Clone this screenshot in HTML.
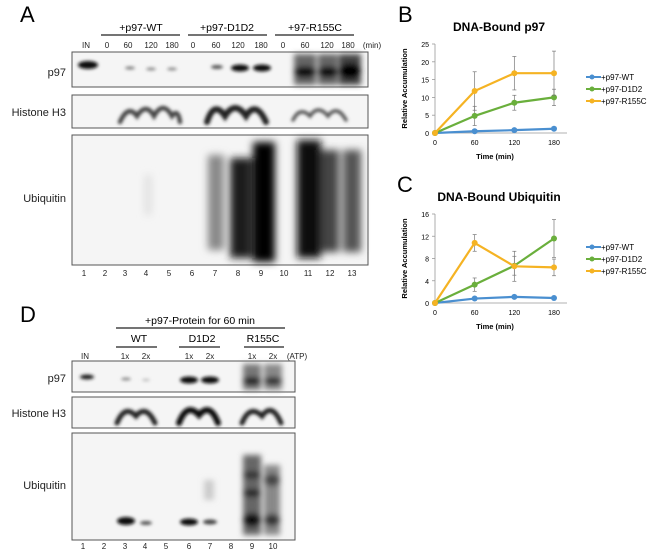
<!DOCTYPE html>
<html><head><meta charset="utf-8"><style>
body{margin:0;background:#fff;font-family:"Liberation Sans",Arial,sans-serif}
svg{display:block}
</style></head><body>
<svg id="fig" width="655" height="551" viewBox="0 0 655 551" font-family="Liberation Sans, Arial, sans-serif">
<defs>
<filter id="b1" x="-50%" y="-50%" width="200%" height="200%"><feGaussianBlur stdDeviation="1.6"/></filter>
<filter id="b2" x="-50%" y="-50%" width="200%" height="200%"><feGaussianBlur stdDeviation="3"/></filter>
<filter id="b3" x="-50%" y="-50%" width="200%" height="200%"><feGaussianBlur stdDeviation="4"/></filter>
</defs>
<g>
<text x="20" y="22" font-size="22">A</text>
<g font-size="10.5" text-anchor="middle">
<text x="141" y="31">+p97-WT</text>
<text x="227" y="31">+p97-D1D2</text>
<text x="315" y="31">+97-R155C</text>
</g>
<g stroke="#222" stroke-width="1.3">
<line x1="101" y1="35" x2="180" y2="35"/><line x1="188" y1="35" x2="267" y2="35"/><line x1="275" y1="35" x2="354" y2="35"/>
</g>
<g font-size="8" text-anchor="middle" fill="#222">
<text x="86" y="48">IN</text><text x="107" y="48">0</text><text x="128" y="48">60</text><text x="151" y="48">120</text><text x="172" y="48">180</text>
<text x="193" y="48">0</text><text x="216" y="48">60</text><text x="238" y="48">120</text><text x="261" y="48">180</text>
<text x="283" y="48">0</text><text x="305" y="48">60</text><text x="327" y="48">120</text><text x="348" y="48">180</text><text x="372" y="48">(min)</text>
</g>
<g font-size="11" text-anchor="end" fill="#222">
<text x="66" y="76">p97</text>
<text x="66" y="116">Histone H3</text>
<text x="66" y="202">Ubiquitin</text>
</g>
<rect x="72" y="52" width="296" height="35" fill="#f5f5f5" stroke="#555"/>
<rect x="72" y="95" width="296" height="33" fill="#f5f5f5" stroke="#555"/>
<rect x="72" y="135" width="296" height="130" fill="#f5f5f5" stroke="#555"/>
<g filter="url(#b1)" fill="#111">
<ellipse cx="88" cy="65" rx="10" ry="4"/>
<ellipse cx="130" cy="68" rx="5" ry="1.5" fill="#777"/><ellipse cx="151" cy="69" rx="5" ry="1.5" fill="#888"/><ellipse cx="172" cy="69" rx="5" ry="1.5" fill="#888"/>
<ellipse cx="217" cy="67" rx="6" ry="2" fill="#555"/><ellipse cx="240" cy="68" rx="9" ry="3.5"/><ellipse cx="262" cy="68" rx="9" ry="3.5"/>
</g>
<g filter="url(#b2)">
<rect x="294" y="54" width="22" height="31" fill="#666"/><rect x="318" y="54" width="20" height="31" fill="#666"/><rect x="339" y="54" width="22" height="31" fill="#444"/>
<ellipse cx="305" cy="72" rx="11" ry="6" fill="#111"/><ellipse cx="328" cy="72" rx="10" ry="6" fill="#111"/><ellipse cx="350" cy="71" rx="11" ry="8" fill="#000"/>
</g>
<g fill="none" stroke="#222" stroke-linecap="round" filter="url(#b1)">
<path d="M120 122 Q128 104 137 116 Q146 102 154 116 Q163 100 172 116 Q178 108 180 122" stroke-width="4.5" stroke="#444"/>
<path d="M207 122 Q214 100 225 116 Q235 100 246 116 Q256 100 266 122" stroke-width="6"/>
<path d="M293 120 Q300 106 310 116 Q318 104 328 116 Q337 104 346 120" stroke-width="3.5" stroke="#555"/>
</g>
<g filter="url(#b3)">
<rect x="208" y="155" width="16" height="95" fill="#888"/>
<rect x="230" y="158" width="22" height="100" fill="#1a1a1a"/>
<rect x="253" y="142" width="22" height="120" fill="#050505"/>
<rect x="297" y="140" width="24" height="118" fill="#080808"/>
<rect x="321" y="150" width="18" height="102" fill="#444"/>
<rect x="343" y="150" width="18" height="102" fill="#555"/>
<rect x="145" y="175" width="6" height="40" fill="#ddd"/>
</g>
<g font-size="8" text-anchor="middle" fill="#222">
<text x="84" y="276">1</text><text x="105" y="276">2</text><text x="125" y="276">3</text><text x="146" y="276">4</text><text x="169" y="276">5</text><text x="192" y="276">6</text><text x="215" y="276">7</text><text x="238" y="276">8</text><text x="261" y="276">9</text><text x="284" y="276">10</text><text x="308" y="276">11</text><text x="330" y="276">12</text><text x="352" y="276">13</text>
</g>
</g>
<g>
<text x="20" y="322" font-size="22">D</text>
<text x="200" y="324" font-size="10.5" text-anchor="middle">+p97-Protein for 60 min</text>
<line x1="116" y1="328" x2="285" y2="328" stroke="#222" stroke-width="1.3"/>
<g font-size="10.5" text-anchor="middle">
<text x="139" y="342">WT</text>
<text x="202" y="342">D1D2</text>
<text x="263" y="342">R155C</text>
</g>
<g stroke="#222" stroke-width="1.3"><line x1="116" y1="347" x2="157" y2="347"/><line x1="179" y1="347" x2="220" y2="347"/><line x1="244" y1="347" x2="284" y2="347"/></g>
<g font-size="8" text-anchor="middle" fill="#222">
<text x="85" y="359">IN</text><text x="125" y="359">1x</text><text x="146" y="359">2x</text><text x="189" y="359">1x</text><text x="210" y="359">2x</text><text x="252" y="359">1x</text><text x="273" y="359">2x</text><text x="297" y="359">(ATP)</text>
</g>
<g font-size="11" text-anchor="end" fill="#222">
<text x="66" y="382">p97</text>
<text x="66" y="417">Histone H3</text>
<text x="66" y="489">Ubiquitin</text>
</g>
<rect x="72" y="361" width="223" height="31" fill="#f5f5f5" stroke="#555"/>
<rect x="72" y="397" width="223" height="31" fill="#f5f5f5" stroke="#555"/>
<rect x="72" y="433" width="223" height="107" fill="#f5f5f5" stroke="#555"/>
<g filter="url(#b1)">
<ellipse cx="87" cy="377" rx="7" ry="2.5" fill="#222"/>
<ellipse cx="126" cy="379" rx="5" ry="1.5" fill="#888"/><ellipse cx="146" cy="380" rx="4" ry="1.2" fill="#bbb"/>
<ellipse cx="189" cy="380" rx="9" ry="3.5" fill="#111"/><ellipse cx="210" cy="380" rx="9" ry="3.5" fill="#111"/>
<ellipse cx="126" cy="521" rx="9" ry="4" fill="#111"/><ellipse cx="146" cy="523" rx="6" ry="2" fill="#555"/>
<ellipse cx="189" cy="522" rx="9" ry="3.5" fill="#111"/><ellipse cx="210" cy="522" rx="7" ry="2.5" fill="#444"/>
</g>
<g filter="url(#b2)">
<rect x="243" y="364" width="18" height="26" fill="#777"/><rect x="264" y="364" width="18" height="26" fill="#888"/>
<ellipse cx="252" cy="381" rx="9" ry="4" fill="#111"/><ellipse cx="273" cy="381" rx="9" ry="4" fill="#222"/>
<rect x="243" y="455" width="18" height="80" fill="#666"/><rect x="264" y="465" width="16" height="70" fill="#888"/>
<ellipse cx="252" cy="520" rx="9" ry="7" fill="#111"/><ellipse cx="252" cy="493" rx="9" ry="4" fill="#222"/><ellipse cx="252" cy="475" rx="9" ry="4" fill="#333"/>
<ellipse cx="272" cy="520" rx="8" ry="6" fill="#333"/><ellipse cx="272" cy="480" rx="8" ry="6" fill="#444"/>
<rect x="204" y="480" width="10" height="20" fill="#ccc"/>
</g>
<g fill="none" stroke-linecap="round" filter="url(#b1)">
<path d="M117 423 Q125 404 136 416 Q146 404 155 423" stroke="#222" stroke-width="5"/>
<path d="M179 423 Q187 402 199 415 Q210 402 218 423" stroke="#111" stroke-width="6"/>
<path d="M242 423 Q250 404 262 416 Q272 402 281 423" stroke="#222" stroke-width="5"/>
</g>
<g font-size="8" text-anchor="middle" fill="#222">
<text x="83" y="549">1</text><text x="104" y="549">2</text><text x="125" y="549">3</text><text x="145" y="549">4</text><text x="166" y="549">5</text><text x="189" y="549">6</text><text x="210" y="549">7</text><text x="231" y="549">8</text><text x="252" y="549">9</text><text x="273" y="549">10</text>
</g>
</g>
<text x="398" y="22" font-size="22">B</text>
<text x="397" y="192" font-size="22">C</text>
<g id="chartB"></g>
<g id="chartC"></g>
</svg>
<script>
const times=[0,60,120,180];
const seriesNames=["+p97-WT","+p97-D1D2","+p97-R155C"];
const colors=["#4a8fd0","#6aaf3c","#f5b323"];
const bWT=[0,0.5,0.8,1.2], bD1D2=[0,4.8,8.5,10], bR155C=[0,11.8,16.8,16.8];
const bErrD1D2=[0,2.7,2.1,2.3], bErrR155C=[0,5.4,4.7,6.2], bErrWT=[0,0.2,0.2,0.3];
const bTicks=[0,5,10,15,20,25];
const cWT=[0,0.8,1.1,0.9], cD1D2=[0,3.3,6.7,11.6], cR155C=[0,10.8,6.6,6.4];
const cErrD1D2=[0,1.2,1.7,3.4], cErrR155C=[0,1.5,2.7,1.5], cErrWT=[0,0.2,0.2,0.2];
const cTicks=[0,4,8,12,16];
const xTicks=[0,60,120,180];
const NS="http://www.w3.org/2000/svg";
function mk(p,t,a){const e=document.createElementNS(NS,t);for(const k in a)e.setAttribute(k,a[k]);p.appendChild(e);return e;}
function chart(g,title,y0,series,errs,ticks,ymax){
 const x0=435,x1=554,yb=y0+89,yt=y0;
 const X=v=>x0+(v-0)/180*(x1-x0), Y=v=>yb-v/ymax*(yb-yt);
 let t=mk(g,"text",{x:499,y:y0-13,"font-size":12,"font-weight":"bold","text-anchor":"middle"});t.textContent=title;
 
 
 mk(g,"line",{x1:x0,y1:yt,x2:x0,y2:yb,stroke:"#999","stroke-width":0.8});
 mk(g,"line",{x1:x0,y1:yb,x2:x1+13,y2:yb,stroke:"#999","stroke-width":0.8});
 ticks.forEach(v=>{mk(g,"line",{x1:x0-3,y1:Y(v),x2:x0,y2:Y(v),stroke:"#999","stroke-width":0.8});
  const l=mk(g,"text",{x:x0-6,y:Y(v)+3,"font-size":7,"text-anchor":"end"});l.textContent=v;
  
  });
 xTicks.forEach(v=>{const l=mk(g,"text",{x:X(v),y:yb+12,"font-size":7,"text-anchor":"middle"});l.textContent=v;
  
  });
 const xt=mk(g,"text",{x:495,y:yb+26,"font-size":7.5,"font-weight":"bold","text-anchor":"middle"});xt.textContent="Time (min)";
 
 
 const yl=mk(g,"text",{x:0,y:0,"font-size":7.5,"font-weight":"bold","text-anchor":"middle",transform:`translate(407,${(yt+yb)/2}) rotate(-90)`});yl.textContent="Relative Accumulation";
 
 
 series.forEach((s,i)=>{
  const sg=mk(g,"g",{});
  
  
  s.forEach((v,j)=>{if(j>0){const e=errs[i][j];mk(sg,"line",{x1:X(times[j]),y1:Y(v+e),x2:X(times[j]),y2:Y(v-e),stroke:"#777","stroke-width":0.7});
   mk(sg,"line",{x1:X(times[j])-2,y1:Y(v+e),x2:X(times[j])+2,y2:Y(v+e),stroke:"#777","stroke-width":0.7});
   mk(sg,"line",{x1:X(times[j])-2,y1:Y(v-e),x2:X(times[j])+2,y2:Y(v-e),stroke:"#777","stroke-width":0.7});}});
  mk(sg,"polyline",{points:s.map((v,j)=>X(times[j])+","+Y(v)).join(" "),fill:"none",stroke:colors[i],"stroke-width":2.2});
  s.forEach((v,j)=>{const c=mk(sg,"circle",{cx:X(times[j]),cy:Y(v),r:3,fill:colors[i]});
   
   });
  const ly=y0+33+i*12;
  mk(sg,"line",{x1:586,y1:ly,x2:601,y2:ly,stroke:colors[i],"stroke-width":2});
  mk(sg,"circle",{cx:592,cy:ly,r:2.5,fill:colors[i]});
  const lt=mk(sg,"text",{x:601,y:ly+3,"font-size":8});lt.textContent=seriesNames[i];
  
  
 });
}
chart(document.getElementById("chartB"),"DNA-Bound p97",44,[bWT,bD1D2,bR155C],[bErrWT,bErrD1D2,bErrR155C],bTicks,25);
chart(document.getElementById("chartC"),"DNA-Bound Ubiquitin",214,[cWT,cD1D2,cR155C],[cErrWT,cErrD1D2,cErrR155C],cTicks,16);
</script>
</body></html>
